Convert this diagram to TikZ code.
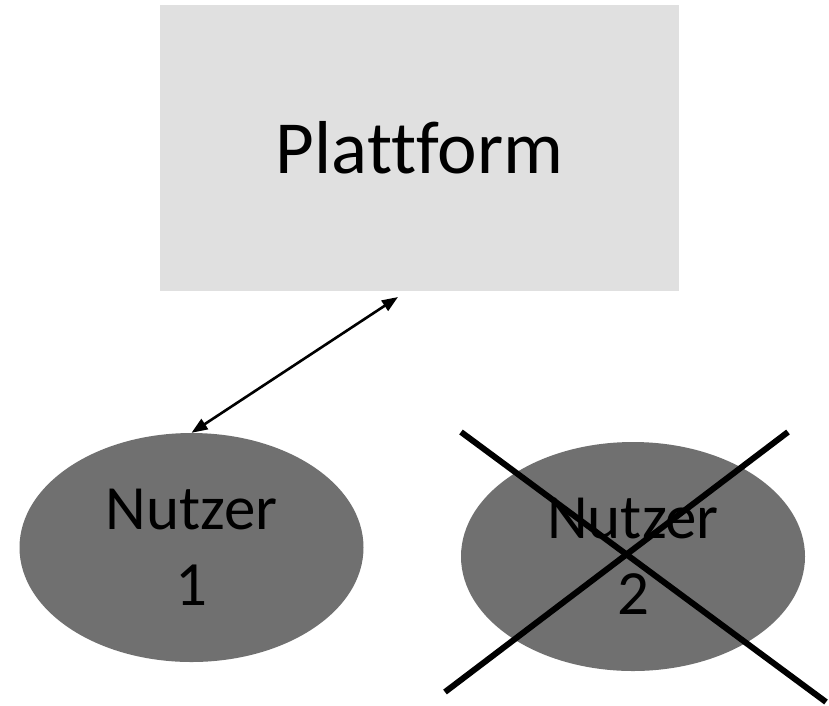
\documentclass[tikz,border=0pt]{standalone}
\usepackage{fontspec}
\setmainfont[Ligatures=NoCommon]{Carlito}
\usetikzlibrary{arrows.meta,shapes.geometric}
\definecolor{platfill}{RGB}{224,224,224}
\definecolor{userfill}{RGB}{112,112,112}
\tikzset{
  platbox/.style={rectangle, fill=platfill, inner sep=0pt,
    minimum width=519pt, minimum height=286pt,
    font=\fontsize{75}{88}\selectfont},
  userell/.style={ellipse, fill=userfill, inner sep=0pt,
    minimum width=344pt, minimum height=229pt, align=center,
    font=\fontsize{63}{76}\selectfont},
  link/.style={line width=2.6pt, {Triangle[length=16pt,width=12pt]}-{Triangle[length=16pt,width=12pt]}},
  strike/.style={line width=6pt}
}
\begin{document}
\begin{tikzpicture}[x=1pt,y=-1pt]
  \useasboundingbox (0,0) rectangle (829,705);
  \fill[white] (0,0) rectangle (829,705);

  % platform box
  \node[platbox] (plat) at (419.5,148) {Plattform};

  % the two users
  \node[userell] (n1) at (191.5,547.5) {Nutzer\\1};
  \node[userell] (n2) at (633,556.5) {Nutzer\\2};

  % connection between platform and user 1
  \coordinate (pend) at (398,297);
  \draw[link] (n1.north) -- (pend);

  % user 2 crossed out
  \coordinate (xa) at (461,432);
  \coordinate (xb) at (826,702);
  \coordinate (xc) at (788,432);
  \coordinate (xd) at (445,692);
  \draw[strike] (xa) -- (xb);
  \draw[strike] (xc) -- (xd);
\end{tikzpicture}
\end{document}
